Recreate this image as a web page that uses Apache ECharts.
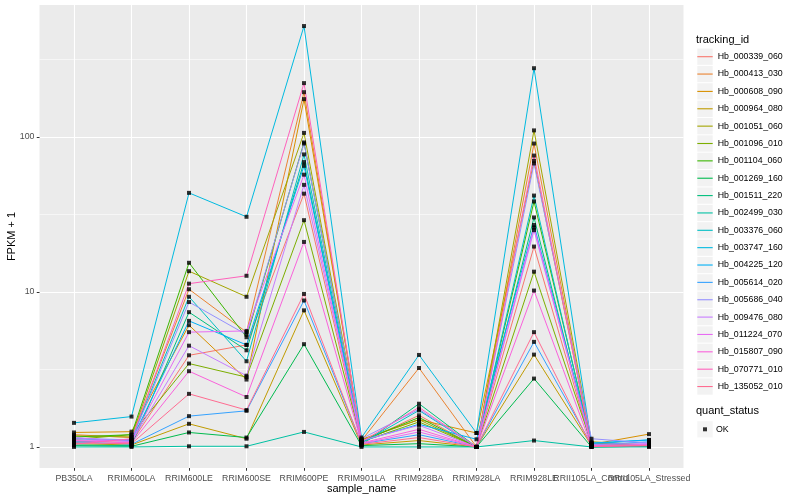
<!DOCTYPE html>
<html><head><meta charset="utf-8">
<script src="https://cdn.jsdelivr.net/npm/echarts@6/dist/echarts.min.js"></script>
<style>html,body{margin:0;padding:0;background:#fff}#c{width:800px;height:500px}</style>
</head><body><div id="c"></div>
<script>
const categories = ['PB350LA','RRIM600LA','RRIM600LE','RRIM600SE','RRIM600PE','RRIM901LA','RRIM928BA','RRIM928LA','RRIM928LE','RRII105LA_Control','RRII105LA_Stressed'];
const trackingIds = ['Hb_000339_060','Hb_000413_030','Hb_000608_090','Hb_000964_080','Hb_001051_060','Hb_001096_010','Hb_001104_060','Hb_001269_160','Hb_001511_220','Hb_002499_030','Hb_003376_060','Hb_003747_160','Hb_004225_120','Hb_005614_020','Hb_005686_040','Hb_009476_080','Hb_011224_070','Hb_015807_090','Hb_070771_010','Hb_135052_010'];
const yTickValues = [1, 10, 100];
const yMinorValues = [3.1623, 31.623, 316.23];
const quantStatus = ['OK'];

// FPKM + 1 per sample_name, one array per tracking_id
const Hb_000339_060 = [1.09, 1.07, 3.9, 4.55, 43, 1.07, 1.6, 1.0, 19.6, 1.02, 1.02];
const Hb_000413_030 = [1.2, 1.15, 10.4, 5.5, 194, 1.1, 3.23, 1.0, 90.5, 1.03, 1.04];
const Hb_000608_090 = [1.24, 1.255, 6.1, 2.72, 175, 1.12, 1.5, 1.23, 70, 1.04, 1.21];
const Hb_000964_080 = [1.05, 1.03, 1.41, 1.13, 7.6, 1.03, 1.1, 1.0, 3.94, 1.02, 1.02];
const Hb_001051_060 = [1.18, 1.16, 13.6, 9.3, 106, 1.11, 1.5, 1.0, 110, 1.08, 1.03];
const Hb_001096_010 = [1.12, 1.2, 3.45, 2.82, 29, 1.08, 1.45, 1.0, 13.5, 1.05, 1.03];
const Hb_001104_060 = [1.16, 1.2, 15.4, 5.1, 92, 1.09, 1.55, 1.0, 38.3, 1.06, 1.02];
const Hb_001269_160 = [1.02, 1.01, 1.24, 1.15, 4.6, 1.02, 1.05, 1.0, 2.76, 1.0, 1.01];
const Hb_001511_220 = [1.03, 1.02, 7.4, 4.2, 68.7, 1.03, 1.9, 1.0, 30.2, 1.0, 1.01];
const Hb_002499_030 = [1.0, 1.0, 1.01, 1.01, 1.25, 1.0, 1.0, 1.0, 1.1, 1.0, 1.0];
const Hb_003376_060 = [1.07, 1.12, 9.3, 3.57, 77, 1.06, 1.72, 1.0, 41.8, 1.01, 1.03];
const Hb_003747_160 = [1.43, 1.57, 43.5, 30.5, 518, 1.15, 3.92, 1.23, 277, 1.05, 1.11];
const Hb_004225_120 = [1.13, 1.1, 6.5, 4.55, 65, 1.09, 1.4, 1.12, 27, 1.06, 1.11];
const Hb_005614_020 = [1.08, 1.04, 1.58, 1.71, 8.8, 1.05, 1.2, 1.0, 4.76, 1.03, 1.08];
const Hb_005686_040 = [1.14, 1.11, 8.6, 5.3, 90.5, 1.13, 1.75, 1.0, 67.3, 1.13, 1.06];
const Hb_009476_080 = [1.15, 1.08, 4.5, 2.88, 49, 1.1, 1.38, 1.0, 25, 1.04, 1.05];
const Hb_011224_070 = [1.11, 1.09, 5.5, 5.6, 57, 1.05, 1.25, 1.0, 26, 1.02, 1.04];
const Hb_015807_090 = [1.1, 1.06, 3.08, 2.1, 21, 1.06, 1.3, 1.0, 10.2, 1.01, 1.03];
const Hb_070771_010 = [1.04, 1.13, 11.3, 12.7, 222, 1.08, 1.8, 1.0, 75.7, 1.01, 1.02];
const Hb_135052_010 = [1.06, 1.05, 2.2, 1.73, 9.7, 1.04, 1.15, 1.0, 5.5, 1.01, 1.02];

const seriesValues = [Hb_000339_060, Hb_000413_030, Hb_000608_090, Hb_000964_080, Hb_001051_060, Hb_001096_010, Hb_001104_060, Hb_001269_160, Hb_001511_220, Hb_002499_030, Hb_003376_060, Hb_003747_160, Hb_004225_120, Hb_005614_020, Hb_005686_040, Hb_009476_080, Hb_011224_070, Hb_015807_090, Hb_070771_010, Hb_135052_010];

const palette = ['#F8766D','#EA8331','#D89000','#C09B00','#A3A500','#7CAE00','#39B600','#00BB4E','#00BF7D','#00C1A3','#00BFC4','#00BAE0','#00B0F6','#35A2FF','#9590FF','#C77CFF','#E76BF3','#FA62DB','#FF62BC','#FF6C91'];

const allVals = seriesValues.flat();
const lmin = Math.log10(Math.min(...allVals)), lmax = Math.log10(Math.max(...allVals));
const pad = (lmax - lmin) * 0.05;
const yMin = Math.pow(10, lmin - pad), yMax = Math.pow(10, lmax + pad);
const xPositions = categories.map((c, i) => i + 1);
const lastX = xPositions[xPositions.length - 1];

const FONT = 'Liberation Sans, Arial, sans-serif';

const lineSeries = trackingIds.map((id, k) => ({
  name: id, type: 'line', xAxisIndex: 0, yAxisIndex: 0,
  data: seriesValues[k].map((v, i) => [xPositions[i], v]),
  showSymbol: false, symbol: 'none', silent: true, z: 2,
  lineStyle: { width: 1, color: palette[k] }, itemStyle: { color: palette[k] }
}));
const pointSeries = {
  name: 'OK', type: 'scatter', xAxisIndex: 0, yAxisIndex: 0,
  data: seriesValues.flatMap(arr => arr.map((v, i) => [xPositions[i], v])),
  symbol: 'rect', symbolSize: 4, itemStyle: { color: '#000' }, z: 5, silent: true
};

const xLabelStyle = { fontSize: 8.8, color: '#4D4D4D', margin: 6.5, fontFamily: FONT, hideOverlap: false };

const chart = echarts.init(document.getElementById('c'), null, { renderer: 'canvas' });
chart.setOption({
  animation: false,
  color: palette,
  textStyle: { fontFamily: FONT },
  title: [
    { text: 'tracking_id', left: 696, top: 34, padding: 0, textStyle: { fontSize: 11, fontWeight: 'normal', color: '#000', fontFamily: FONT } },
    { text: 'quant_status', left: 696, top: 405.5, padding: 0, textStyle: { fontSize: 11, fontWeight: 'normal', color: '#000', fontFamily: FONT } }
  ],
  grid: { left: 39.5, right: 116.5, top: 5, bottom: 32, show: true, backgroundColor: '#EBEBEB', borderWidth: 0,
    containLabel: false, outerBoundsMode: 'none' },
  xAxis: [{
    type: 'value', min: 0.4, max: 11.6, position: 'bottom',
    name: 'sample_name', nameLocation: 'middle', nameGap: 15.5, nameMoveOverlap: false,
    nameTextStyle: { fontSize: 11, color: '#000', fontFamily: FONT },
    axisLine: { show: false },
    axisTick: { show: true, length: 2.75, lineStyle: { color: '#333', width: 1 }, customValues: xPositions },
    axisLabel: Object.assign({}, xLabelStyle, { customValues: xPositions,
      formatter: v => (Math.round(v) === lastX ? '' : (categories[Math.round(v) - 1] || '')) }),
    splitLine: { show: true, lineStyle: { color: '#FFFFFF', width: 1.1 } }
  }, {
    type: 'value', min: 0.4, max: 11.6, position: 'bottom',
    axisLine: { show: false },
    axisTick: { show: false, customValues: [lastX] },
    axisLabel: Object.assign({}, xLabelStyle, { customValues: [lastX],
      formatter: v => categories[Math.round(v) - 1] || '' }),
    splitLine: { show: false }
  }],
  yAxis: [{
    type: 'log', logBase: 10, min: yMin, max: yMax,
    name: 'FPKM + 1', nameLocation: 'middle', nameGap: 22, nameRotate: 90, nameMoveOverlap: false,
    nameTextStyle: { fontSize: 11, color: '#000', fontFamily: FONT },
    axisLine: { show: false },
    axisTick: { show: true, length: 2.75, lineStyle: { color: '#333', width: 1 }, customValues: yTickValues },
    axisLabel: { fontSize: 8.8, color: '#4D4D4D', margin: 5, fontFamily: FONT, customValues: yTickValues,
      formatter: v => String(Math.round(v)) },
    splitLine: { show: true, lineStyle: { color: '#FFFFFF', width: 1.1 } }
  }, {
    type: 'log', logBase: 10, min: yMin, max: yMax, position: 'left',
    axisLine: { show: false },
    axisTick: { show: false, customValues: yMinorValues },
    axisLabel: { show: false, customValues: yMinorValues },
    splitLine: { show: true, lineStyle: { color: '#FFFFFF', width: 0.55 } }
  }],
  legend: [
    { data: trackingIds, orient: 'vertical', left: 697.3, top: 48.55, padding: 0, z: 1,
      icon: 'rect', itemWidth: 15.4, itemHeight: 16.3, itemGap: 1.06,
      itemStyle: { color: '#F2F2F2', borderWidth: 0 }, formatter: () => '',
      textStyle: { color: 'rgba(0,0,0,0)', fontSize: 8 }, selectedMode: false },
    { data: trackingIds, orient: 'vertical', left: 697.3, top: 50.7, padding: 0, z: 3,
      icon: 'rect', itemWidth: 15.4, itemHeight: 1.1, itemGap: 5.36,
      textStyle: { fontSize: 8.8, color: '#000', lineHeight: 12, fontFamily: FONT } },
    { data: quantStatus, orient: 'vertical', left: 697.3, top: 421.15, padding: 0, z: 1,
      icon: 'rect', itemWidth: 15.4, itemHeight: 16.3,
      itemStyle: { color: '#F2F2F2', borderWidth: 0 }, formatter: () => '',
      textStyle: { color: 'rgba(0,0,0,0)', fontSize: 8 }, selectedMode: false },
    { data: quantStatus, orient: 'vertical', left: 703, top: 423.3, padding: 0, z: 3,
      icon: 'rect', itemWidth: 4, itemHeight: 4,
      textStyle: { fontSize: 8.8, color: '#000', lineHeight: 12, fontFamily: FONT, padding: [0, 0, 0, 4] } }
  ],
  series: [...lineSeries, pointSeries]
});
</script></body></html>
